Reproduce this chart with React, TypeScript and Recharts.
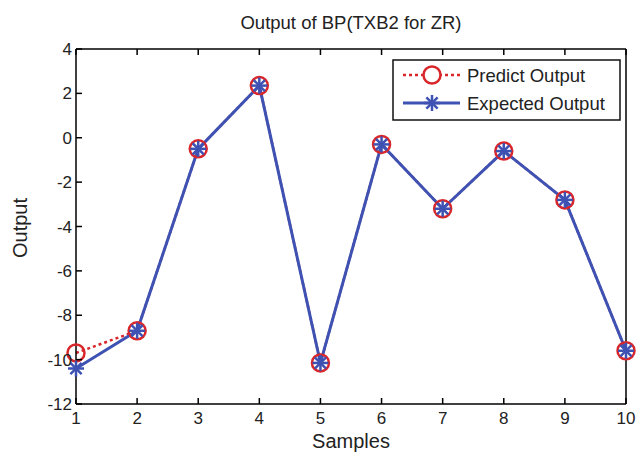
import React from "react";
import { LineChart, Line, XAxis, YAxis } from "recharts";

const samples = [1, 2, 3, 4, 5, 6, 7, 8, 9, 10];
const predictOutput = [-9.7, -8.7, -0.5, 2.35, -10.15, -0.3, -3.2, -0.6, -2.8, -9.6];
const expectedOutput = [-10.4, -8.7, -0.5, 2.35, -10.15, -0.3, -3.2, -0.6, -2.8, -9.6];
const xTicks = [1, 2, 3, 4, 5, 6, 7, 8, 9, 10];
const yTicks = [-12, -10, -8, -6, -4, -2, 0, 2, 4];

const RED = "#d9262b";
const BLUE = "#3e52b3";
const FONT = "'Liberation Sans', Arial, sans-serif";

const data = samples.map((s, i) => ({
  sample: s,
  predict: predictOutput[i],
  expected: expectedOutput[i],
}));

// inward tick marks, MATLAB style
const BottomTick = (props: any) => {
  const { x, y, payload } = props;
  return (
    <g>
      <line x1={x} x2={x} y1={y} y2={y - 6} stroke="#000" strokeWidth={1.5} />
      <text x={x} y={y + 20} textAnchor="middle" fontSize={17} fontFamily={FONT} fill="#222">
        {payload.value}
      </text>
    </g>
  );
};

const TopTick = (props: any) => {
  const { x, y } = props;
  return <line x1={x} x2={x} y1={y} y2={y + 6} stroke="#000" strokeWidth={1.5} />;
};

const LeftTick = (props: any) => {
  const { x, y, payload } = props;
  return (
    <g>
      <line x1={x} x2={x + 6} y1={y} y2={y} stroke="#000" strokeWidth={1.5} />
      <text x={x - 4} y={y + 6} textAnchor="end" fontSize={17} fontFamily={FONT} fill="#222">
        {payload.value}
      </text>
    </g>
  );
};

const RightTick = (props: any) => {
  const { x, y } = props;
  return <line x1={x} x2={x - 6} y1={y} y2={y} stroke="#000" strokeWidth={1.5} />;
};

const CircleDot = (props: any) => {
  const { cx, cy, index } = props;
  return <circle key={index} cx={cx} cy={cy} r={8.5} fill="none" stroke={RED} strokeWidth={2.5} />;
};

const StarDot = (props: any) => {
  const { cx, cy, index } = props;
  const r = 8;
  const d = r * 0.7;
  return (
    <g key={index} stroke={BLUE} strokeWidth={2.5}>
      <line x1={cx - r} x2={cx + r} y1={cy} y2={cy} />
      <line x1={cx} x2={cx} y1={cy - r} y2={cy + r} />
      <line x1={cx - d} x2={cx + d} y1={cy - d} y2={cy + d} />
      <line x1={cx - d} x2={cx + d} y1={cy + d} y2={cy - d} />
    </g>
  );
};

const LegendBox = () => (
  <svg width={230} height={63}>
    <rect x={1} y={1} width={227} height={60} fill="#fff" stroke="#111" strokeWidth={1.5} />
    <line x1={11} x2={68} y1={16} y2={16} stroke={RED} strokeWidth={2.5} strokeDasharray="3 3" />
    <circle cx={40} cy={16} r={8.5} fill="#fff" stroke={RED} strokeWidth={2.5} />
    <text x={75} y={22.5} fontSize={18.5} fontFamily={FONT} fill="#222">Predict Output</text>
    <line x1={11} x2={68} y1={44} y2={44} stroke={BLUE} strokeWidth={3} />
    <StarDot cx={40} cy={44} index={0} />
    <text x={75} y={50.5} fontSize={18.5} fontFamily={FONT} fill="#222">Expected Output</text>
  </svg>
);

const axisLine = { stroke: "#000", strokeWidth: 1.5 };

export default function App() {
  return (
    <div style={{ position: "relative", width: 638, height: 457, background: "#fff", fontFamily: FONT }}>
      <style>{`body{margin:0}`}</style>
      <div style={{ position: "absolute", top: 12, left: 76, width: 550, textAlign: "center", fontSize: 18.5, color: "#222" }}>
        Output of BP(TXB2 for ZR)
      </div>
      <div style={{ position: "absolute", top: 430, left: 76, width: 550, textAlign: "center", fontSize: 20, color: "#222" }}>
        Samples
      </div>
      <div
        style={{
          position: "absolute",
          left: 20,
          top: 228,
          transform: "translate(-50%, -50%) rotate(-90deg)",
          fontSize: 20,
          color: "#222",
          whiteSpace: "nowrap",
        }}
      >
        Output
      </div>
      <LineChart width={638} height={457} data={data} margin={{ top: 48, right: 11, bottom: 52, left: 75 }}>
        <XAxis
          xAxisId="bottom"
          dataKey="sample"
          type="number"
          domain={[1, 10]}
          ticks={xTicks}
          height={1}
          tickSize={0}
          tickMargin={0}
          tick={<BottomTick />}
          axisLine={axisLine}
          interval={0}
        />
        <XAxis
          xAxisId="top"
          orientation="top"
          dataKey="sample"
          type="number"
          domain={[1, 10]}
          ticks={xTicks}
          height={1}
          tickSize={0}
          tickMargin={0}
          tick={<TopTick />}
          axisLine={axisLine}
          interval={0}
        />
        <YAxis
          yAxisId="left"
          type="number"
          domain={[-12, 4]}
          ticks={yTicks}
          width={1}
          tickSize={0}
          tickMargin={0}
          tick={<LeftTick />}
          axisLine={axisLine}
          interval={0}
        />
        <YAxis
          yAxisId="right"
          orientation="right"
          type="number"
          domain={[-12, 4]}
          ticks={yTicks}
          width={1}
          tickSize={0}
          tickMargin={0}
          tick={<RightTick />}
          axisLine={axisLine}
          interval={0}
        />
        <Line
          xAxisId="bottom"
          yAxisId="left"
          dataKey="predict"
          stroke={RED}
          strokeWidth={2.5}
          strokeDasharray="3 3"
          dot={<CircleDot />}
          isAnimationActive={false}
        />
        <Line
          xAxisId="bottom"
          yAxisId="left"
          dataKey="expected"
          stroke={BLUE}
          strokeWidth={3}
          dot={<StarDot />}
          isAnimationActive={false}
        />
      </LineChart>
      <div style={{ position: "absolute", left: 392, top: 59 }}>
        <LegendBox />
      </div>
    </div>
  );
}
